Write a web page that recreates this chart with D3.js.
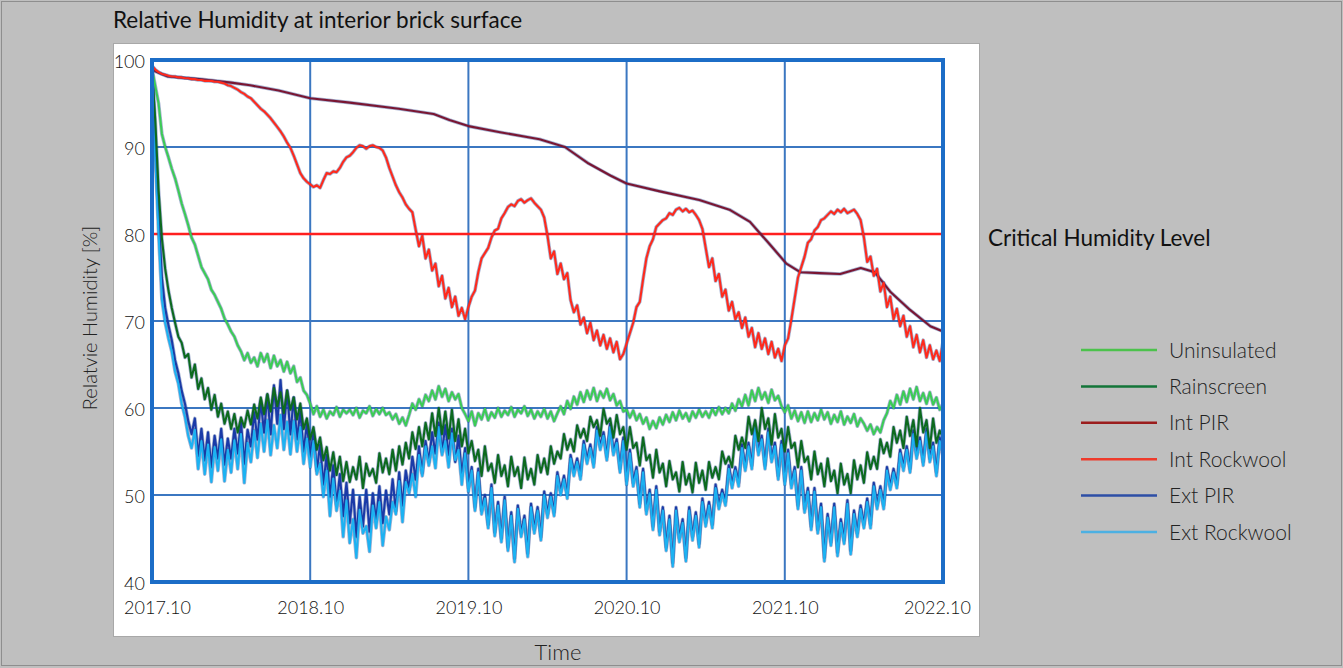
<!DOCTYPE html>
<html><head><meta charset="utf-8">
<script src="https://cdn.jsdelivr.net/npm/d3@7"></script>
<style>
body{margin:0;background:#bfbfbf;}
svg{display:block;font-family:Lato,"Open Sans",sans-serif;}
</style>
</head><body>
<svg id="c" width="1343" height="668"></svg>
<script>
// ---------------- DATA ----------------
const chartTitle = "Relative Humidity at interior brick surface";
const yAxisTitle = "Relatvie Humidity [%]";
const xAxisTitle = "Time";
const criticalLabel = "Critical Humidity Level";
const criticalLevel = 80;
const yTicks = [40, 50, 60, 70, 80, 90, 100];
const xTickYears = [0, 1, 2, 3, 4, 5];
const xTickLabels = ["2017.10", "2018.10", "2019.10", "2020.10", "2021.10", "2022.10"];
const seriesNames = ["Uninsulated", "Rainscreen", "Int PIR", "Int Rockwool", "Ext PIR", "Ext Rockwool"];
const stepsPerYear = 48; // samples on a half-month grid from 2017.10

const uninsulated = [
99,97,95,91.5,90,88.8,87.5,86.4,85,83.5,82.3,81,
79.6,78.8,77.5,76.2,75.5,74.8,73.6,73,72.2,71.4,70.3,69.6,
68.8,68.2,67.2,66.5,65.5,66.3,65.2,65.8,64.8,66.3,65.3,66.2,
64.6,66,64.8,65.5,64.2,65.3,64,64.8,63,63.5,62,61.5,
60.5,59.3,60.2,59,59.8,58.8,59.6,59.2,60.1,59,59.8,59.4,
59.8,59.2,60,58.9,59.7,59.4,60.2,59.1,59.9,59.3,60,59.2,
59.5,58.7,59.3,58.2,58.9,58,59.2,60.5,59.8,61,60.2,61.5,
60.8,62,61,62.5,61.3,62.2,60.8,61.8,61,61.6,60,59.3,
58.5,59.6,58,59.4,58.7,59.9,58.6,59.5,58.9,60,59,59.7,
59.2,60.1,59,59.8,59.4,60.2,59.1,59.8,58.8,59.6,59,59.9,
58.8,59.6,58.5,59.4,60.2,59.3,60.8,59.9,61.3,60.4,61.8,60.7,
62,61,62.3,60.8,61.9,61.2,62.2,60.9,61.6,60.3,60.8,59.6,
59.8,58.9,59.7,58.6,59.3,58.2,58.9,57.6,58.5,57.7,58.9,58.1,
59.2,58.4,59.5,58.6,59.7,58.8,59.4,58.5,59.6,58.9,59.8,59,
59.6,58.9,59.9,59.2,60.1,59.3,60,59.4,60.5,59.7,61,60.2,
61.5,60.3,62,60.8,62.3,61,61.8,60.6,62.1,60.9,61.4,60.2,
59.5,60.3,58.8,59.7,58.5,59.5,58.3,59.6,58.4,59.4,58.6,59.8,
58.7,59.5,58.2,59.2,58.4,59.6,58.1,59,58.3,59.3,57.9,58.8,
58.2,57.4,58.1,57,57.8,57.2,58.6,59.4,60.8,60,61.5,60.4,
61.9,60.7,62.2,61,62.4,60.8,61.7,60.5,61.8,60.4,61.2,59.8,
60.5];

const rainscreen = [
99,93,85,79.5,76,73.5,71.5,69.8,68.2,67.5,65.8,66.2,
63.5,65,62.2,63.4,61,62.3,59.8,61.5,59,60.5,58.2,59.6,
57.6,59.3,57.2,58.9,57.8,59.7,58.1,60.4,58.8,61.2,59.3,61.6,
59.6,62.3,60.2,61.8,59.4,62,59.8,61.2,58.7,60.5,57.6,58.8,
56.4,57.8,55.2,56.6,54,55.5,52.8,54.9,52.3,54.4,51.6,53.8,
51.5,53.2,51.8,54.4,50.8,53.6,52.2,53,51.4,54.8,52.6,54.2,
52.4,55.2,52.8,55.6,53.5,56,54.2,57.2,55.3,57.8,55.6,58.3,
56.4,59.4,56.8,60,57,59.6,56.5,59.8,56.2,58.7,55.6,57.6,
54.8,56.2,53.9,55.2,52.2,55.6,52.8,53.6,51.4,54.6,52.2,53.4,
51,54.4,52.2,53.2,50.8,54.3,51.8,53,51.2,54.6,52.6,54.2,
52.4,55.6,53.6,55,54.2,57,55.2,56.4,55,58,56.6,57.6,
56.2,59,57.8,58.6,56.8,59.9,58.2,58.8,56.6,59.2,57,57.8,
55.2,57.8,55.4,56,53.4,56.6,54,54.6,52,55.2,52.6,53.6,
51,53.9,51.8,52.6,50.4,53.8,51.2,52.4,50.3,53.7,51.4,52.8,
50.6,53.8,52,53.2,51.8,55,53.6,54.4,53.2,56.8,55.2,56.6,
55.4,59,57,58.6,56.2,60,57.6,58.8,55.8,59.3,56.6,57.6,
55,57.8,55.4,56,53.2,56.2,53.8,54.4,51.8,55,52.4,53.6,
51,54.2,51.6,52.8,50.2,53.6,51.2,52.4,50.2,54,51.8,53.4,
51.4,54.9,53,54.4,53,56.4,54.8,56,54.4,57.8,56,57.4,
55.4,59,56.8,58.6,55.6,60,57.2,58.6,55.4,58.8,56,57.4,
56.6];

const intRockwool = [
99.3,98.9,98.6,98.4,98.3,98.2,98.1,98.1,98,98,97.9,97.9,
97.8,97.8,97.7,97.7,97.6,97.6,97.6,97.5,97.5,97.4,97.3,97.1,
97,96.8,96.6,96.3,96.1,95.8,95.6,95.2,94.8,94.4,94.1,93.7,
93.3,92.8,92.3,91.8,91.2,90.5,89.9,89,88,87,86.4,86,
85.7,85.4,85.6,85.3,86.2,87,86.9,87.2,87.1,87.6,88.3,88.8,
89,89.4,89.9,90.2,90.1,89.8,90.1,90.2,90,89.9,89.6,88.8,
87.6,86.6,85.6,84.8,84.2,83.4,82.9,82.5,80.5,78.6,79.8,77.2,
78.2,75.8,76.6,74,75.2,72.6,73.8,71.6,72.8,70.6,71.5,70.2,
71.6,72.8,73.5,75.6,77.2,77.8,78.4,79.6,80.4,80.6,81.8,82.4,
83.1,83.4,83.2,83.8,84,83.6,83.9,84.1,83.6,83.2,82.8,81.9,
79.8,77.2,78,75.4,76.6,74.8,75.5,72.4,71,71.8,69.6,70.4,
68.6,69.8,67.8,68.9,67.2,68.4,66.8,68,66.4,67.6,65.6,66.2,
67.4,68.6,69.8,71.6,72.2,74.8,77.2,78.6,79.4,80.8,81.2,81.6,
81.8,82.4,82.2,82.8,83,82.6,82.9,82.5,82.7,82.2,81.6,80.6,
78.4,76.2,77.2,74.6,75.4,72.8,73.6,71.2,72.2,70.2,71,69.2,
70.4,68.2,69.2,67,68.6,66.8,68,66.2,67.6,65.8,66.8,65.4,
67.2,68,70.2,72.6,75,76.2,77.4,79,79.4,80.4,80.8,81.6,
81.8,82.2,82.6,82.3,82.8,82.5,82.9,82.4,82.6,82.8,82.3,81.6,
79.6,76.8,77.4,75.2,76,73.4,74.4,71.6,72.8,70.2,71.4,69.4,
70.6,68.2,69.4,67,68.4,66.4,67.8,65.8,67.2,65.6,66.6,65.4,
67.6];

const extPIR = [
99,90,82,75,71.5,69.5,67.8,65.5,64,62,60.5,58.5,
57,58.8,54.5,57.6,54,57.2,53.2,56.8,54.2,57.6,53.5,56.5,
54.2,57.6,54.8,58.4,53.6,57.5,55.6,59.5,56.4,60.8,57.2,61.5,
57,62.6,58.2,63.2,57.6,62,57,61.2,56.4,59.6,55,58.2,
54.4,57.2,52.8,55.8,51.2,54.6,49.8,53.4,48.8,52.4,47.6,51.4,
46.8,50.6,45.2,49.8,46.4,50.6,45.8,50.2,47,51,46.8,50.5,
47.8,51.8,48.2,52.6,48.8,52.8,50.6,54.4,51.8,55.6,52.5,56.2,
53.8,57.2,54.8,58.3,55,58,54.6,57.6,53.8,56.8,52.2,55.4,
50.8,53.2,48.6,53,48.2,50,46.6,51.2,45.7,49.2,45,49.8,
44,48,42.7,48.8,45.6,47.6,43.3,49,46,48.6,45.2,50.4,
47.8,50.2,48,52.6,50.4,52.2,50,54.6,52.6,54.2,52.2,56.2,
54,55.8,53.6,57.8,55.6,57.2,54.4,58.2,55,56.4,53,56.6,
51.6,55.2,51.4,53.2,49,53,48.2,50.6,46.4,51,45.8,48.6,
44,47.6,42.2,48.6,45,47.2,42.8,48.6,45.2,48,44.4,49.6,
46.8,49.2,46.6,51.2,48.8,50.6,49.2,53.4,51.2,53.2,51.4,55.8,
53.2,56,53.4,58.2,55,56.8,53.4,57.6,54.2,56,52.2,56.2,
51.6,55.2,51.2,53.2,48.8,53.2,48.4,50.8,46.4,50.8,46,49,
42.8,47.8,44.6,49,43.4,47.2,44.8,49.4,43.6,48.2,45.6,48.8,
46.6,49.6,46.6,51.4,48.8,51,48.8,53.2,51,53,51.2,55.2,
53.2,55.6,53,57.4,54.6,56.6,53.8,57.6,54.2,56,52.6,56.6,
54.9];

const extRockwool = [
99,89,80,72.5,69.8,68,66.5,64.2,62.8,60.5,59,56.8,
55.4,57.5,53,56.2,52.4,55.8,51.5,55.5,52.8,56.4,51.6,55.2,
52.6,56.3,53,57,51.4,56,53.8,57.4,54.3,58.2,55,58.6,
54.6,58,55.4,59.2,55.2,58.4,54.7,58.5,55,57.8,53.6,56.5,
53.2,56.2,52.4,53.6,49.8,52.8,47.6,51.9,48.2,50.5,45.2,49.4,
44.5,47.2,42.8,48.3,45.6,46.4,43.5,48.8,46.2,49.2,44.2,47.5,
46,49.2,47.8,51.6,46.9,51.5,50.2,52.4,49.8,54.6,52.2,55.6,
53.4,55.6,53.1,57.8,54.6,56.2,53.2,57.1,54,55.2,51.2,54.8,
50.4,52.8,48.2,52.6,47.8,49.6,46.2,50.8,45.3,48.8,44.6,49.4,
43.6,47.6,42.3,48.4,45.2,47.2,42.9,48.6,45.6,48.2,44.8,50,
47.4,49.8,47.6,52.2,50,51.8,49.6,54.2,52.2,53.8,51.8,55.8,
53.6,55.4,53.2,57.4,55.2,56.8,54,57.8,54.6,56,52.6,56.2,
51.2,54.8,51,52.8,48.6,52.6,47.8,50.2,46,50.6,45.4,48.2,
43.6,47.2,41.8,48.2,44.6,46.8,42.4,48.2,44.8,47.6,44,49.2,
46.4,48.8,46.2,50.8,48.4,50.2,48.8,53,50.8,52.8,51,55.4,
52.8,55.6,53,57.8,54.6,56.4,53,57.2,53.8,55.6,51.8,55.8,
51.2,54.8,50.8,52.8,48.4,52.8,48,50.4,46,50.4,45.6,48.6,
42.4,47.4,44.2,48.6,43,46.8,44.4,49,43.2,47.8,45.2,48.4,
46.2,49.2,46.2,51,48.4,50.6,48.4,52.8,50.6,52.6,50.8,54.8,
52.8,55.2,52.6,57,54.2,56.2,53.4,57.2,53.8,55.6,52.2,56.2,
54.5];

// Int PIR is a smooth curve: its own (years since 2017.10, value) pairs
const intPIRYears = [0,0.02,0.1,0.3,0.5,0.62,0.8,1.0,1.25,1.56,1.78,1.88,2.0,2.2,2.45,2.61,2.76,2.9,3.0,3.21,3.46,3.65,3.78,3.91,4.01,4.1,4.22,4.35,4.48,4.57,4.67,4.79,4.92,5.0];
const intPIRValues = [99.3,98.7,98.1,97.8,97.4,97.1,96.5,95.6,95.1,94.4,93.8,93.1,92.4,91.7,90.9,90.0,88.1,86.7,85.8,84.9,83.9,82.8,81.4,78.7,76.6,75.6,75.5,75.4,76.1,75.6,73.3,71.3,69.4,68.8];

const plotColors = ["#3ccc55", "#0c6a1e", "#7a1632", "#ff2a1c", "#1a3aa8", "#1cb2f2"];
const legendColors = ["#4cc24c", "#137538", "#9b1d1d", "#ee3a2b", "#2d4ea6", "#4cb0e2"];

// ---------------- DRAW ----------------
const W = 1343, H = 668;
const svg = d3.select("#c");
svg.append("rect").attr("x", 1.5).attr("y", 1.5).attr("width", W - 3).attr("height", H - 4)
  .attr("fill", "#bfbfbf").attr("stroke", "#8e8e8e");
svg.append("rect").attr("x", 113.5).attr("y", 43.5).attr("width", 866).attr("height", 593)
  .attr("fill", "#ffffff").attr("stroke", "#a8a8a8");

const x = d3.scaleLinear().domain([0, 5]).range([152, 943]);
const y = d3.scaleLinear().domain([40, 100]).range([582, 60]);

// grid
const grid = svg.append("g");
grid.selectAll("line.h").data(yTicks.filter(d => d > 40 && d < 100)).join("line")
  .attr("x1", x(0)).attr("x2", x(5)).attr("y1", d => y(d)).attr("y2", d => y(d))
  .attr("stroke", "#3b77c1").attr("stroke-width", 2);
grid.selectAll("line.v").data(xTickYears.filter(d => d > 0 && d < 5)).join("line")
  .attr("y1", y(40)).attr("y2", y(100)).attr("x1", d => x(d)).attr("x2", d => x(d))
  .attr("stroke", "#3b77c1").attr("stroke-width", 2);

// clip
svg.append("clipPath").attr("id", "clip").append("rect")
  .attr("x", x(0)).attr("y", y(100)).attr("width", x(5) - x(0)).attr("height", y(40) - y(100));
const plot = svg.append("g").attr("clip-path", "url(#clip)");

// critical line
plot.append("line").attr("x1", x(0)).attr("x2", x(5)).attr("y1", y(criticalLevel)).attr("y2", y(criticalLevel))
  .attr("stroke", "#ff1f1f").attr("stroke-width", 2.5);

const gridSeries = [uninsulated, rainscreen, null, intRockwool, extPIR, extRockwool];
const seriesPts = gridSeries.map((arr, k) => {
  if (k === 2) return intPIRYears.map((t, i) => [t, intPIRValues[i]]);
  return arr.map((v, i) => [i / stepsPerYear, v]);
});
const line = d3.line().x(d => x(d[0])).y(d => y(d[1]));
// drawing order: Ext PIR, Ext Rockwool, Rainscreen, Uninsulated, Int PIR, Int Rockwool
const order = [4, 5, 1, 0, 2, 3];
order.forEach(k => {
  plot.append("path").datum(seriesPts[k]).attr("d", line).attr("fill", "none")
    .attr("stroke", "#24428f").attr("stroke-opacity", 0.4).attr("stroke-width", 3.6)
    .attr("stroke-linejoin", "round");
  plot.append("path").datum(seriesPts[k]).attr("d", line).attr("fill", "none")
    .attr("stroke", plotColors[k]).attr("stroke-width", 2.1).attr("stroke-linejoin", "round");
});

// frame
svg.append("rect").attr("x", x(0)).attr("y", y(100)).attr("width", x(5) - x(0)).attr("height", y(40) - y(100))
  .attr("fill", "none").attr("stroke", "#1c6dc7").attr("stroke-width", 4);

// axes
const yAxis = svg.append("g").attr("transform", `translate(${x(0)},0)`)
  .call(d3.axisLeft(y).tickValues(yTicks).tickSize(0).tickPadding(7).tickFormat(d3.format("d")));
yAxis.select(".domain").remove();
yAxis.selectAll("text").attr("font-size", 18).attr("font-weight", 300).attr("fill", "#111")
  .attr("font-family", "Lato").attr("dy", "0.42em");

const xAxis = svg.append("g").attr("transform", `translate(0,${y(40)})`)
  .call(d3.axisBottom(x).tickValues(xTickYears).tickSize(0).tickPadding(19).tickFormat((d, i) => xTickLabels[i]));
xAxis.select(".domain").remove();
xAxis.selectAll("text").attr("font-size", 18).attr("font-weight", 300).attr("fill", "#111").attr("font-family", "Lato")
  .attr("dx", (d, i) => i === 0 ? 5 : (i === xTickYears.length - 1 ? -6 : 0));

// titles
svg.append("text").attr("x", 113).attr("y", 28).attr("font-size", 22.5).attr("fill", "#111").text(chartTitle);
svg.append("text").attr("transform", "translate(97,318) rotate(-90)").attr("text-anchor", "middle")
  .attr("font-size", 20).attr("font-weight", 300).attr("fill", "#222").text(yAxisTitle);
svg.append("text").attr("x", 558).attr("y", 660).attr("text-anchor", "middle")
  .attr("font-size", 22).attr("font-weight", 300).attr("fill", "#222").text(xAxisTitle);
svg.append("text").attr("x", 988).attr("y", y(criticalLevel) + 12).attr("font-size", 22.5).attr("fill", "#111")
  .text(criticalLabel);

// legend
const leg = svg.append("g");
const legY = d3.scaleLinear().domain([0, 5]).range([350, 532]);
seriesNames.forEach((n, i) => {
  leg.append("line").attr("x1", 1081).attr("x2", 1157).attr("y1", legY(i)).attr("y2", legY(i))
    .attr("stroke", legendColors[i]).attr("stroke-width", 2.5);
  leg.append("text").attr("x", 1169).attr("y", legY(i) + 7.5).attr("font-size", 21).attr("font-weight", 300)
    .attr("fill", "#222").text(n);
});
</script>
</body></html>
